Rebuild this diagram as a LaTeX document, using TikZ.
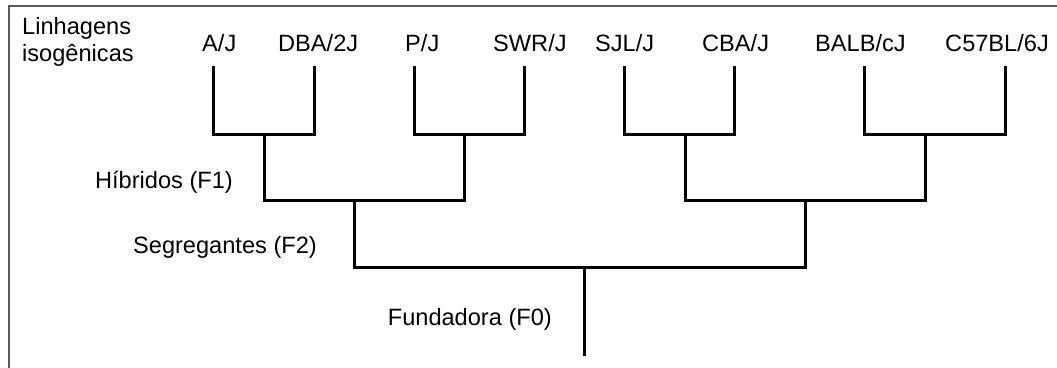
\documentclass[tikz,border=0pt]{standalone}
\usepackage{fontspec}
\setmainfont{Liberation Sans}
\definecolor{framegray}{HTML}{5A5A5A}
\begin{document}
\begin{tikzpicture}[x=1pt,y=-1pt,
  lbl/.style={inner sep=0pt, anchor=base west, font=\fontsize{23.6}{27}\selectfont},
  tree/.style={line width=3pt, black, line join=miter},
  frame/.style={line width=2pt, framegray}]
\useasboundingbox (0,0) rectangle (1057,367);
\fill[white] (0,0) rectangle (1057,367);
\draw[frame] (1060,6) -- (9,6) -- (9,370);
% title
\node[lbl, align=left] (title) at (22,61) {Linhagens\\isogênicas};
% leaf labels
\node[lbl] (nA) at (202,51) {A/J};
\node[lbl] (nD) at (278,51) {DBA/2J};
\node[lbl] (nP) at (405,51) {P/J};
\node[lbl] (nS) at (493,51) {SWR/J};
\node[lbl] (nL) at (595,51) {SJL/J};
\node[lbl] (nC) at (702,51) {CBA/J};
\node[lbl] (nB) at (815,51) {BALB/cJ};
\node[lbl] (n6) at (945,51) {C57BL/6J};
% generation labels
\node[lbl, anchor=base east] (hib) at (233,188) {Híbridos (F1)};
\node[lbl, anchor=base east] (seg) at (317,253) {Segregantes (F2)};
\node[lbl, anchor=base east] (fun) at (552,325) {Fundadora (F0)};
% coordinates
\coordinate (lA) at (213,66);
\coordinate (lD) at (314,66);
\coordinate (lP) at (414,66);
\coordinate (lS) at (524,66);
\coordinate (lL) at (624,66);
\coordinate (lC) at (734,66);
\coordinate (lB) at (864,66);
\coordinate (l6) at (1005,66);
\coordinate (h1) at (264,134);
\coordinate (h2) at (464,134);
\coordinate (h3) at (685,134);
\coordinate (h4) at (925,134);
\coordinate (g1) at (354,200);
\coordinate (g2) at (805,200);
\coordinate (f0) at (584,267);
\coordinate (root) at (584,356);
% tree
\draw[tree] (lA) |- (h1) -| (lD);
\draw[tree] (lP) |- (h2) -| (lS);
\draw[tree] (lL) |- (h3) -| (lC);
\draw[tree] (lB) |- (h4) -| (l6);
\draw[tree] (h1) |- (g1) -| (h2);
\draw[tree] (h3) |- (g2) -| (h4);
\draw[tree] (g1) |- (f0) -| (g2);
\draw[tree] (f0) -- (root);
\end{tikzpicture}
\end{document}
